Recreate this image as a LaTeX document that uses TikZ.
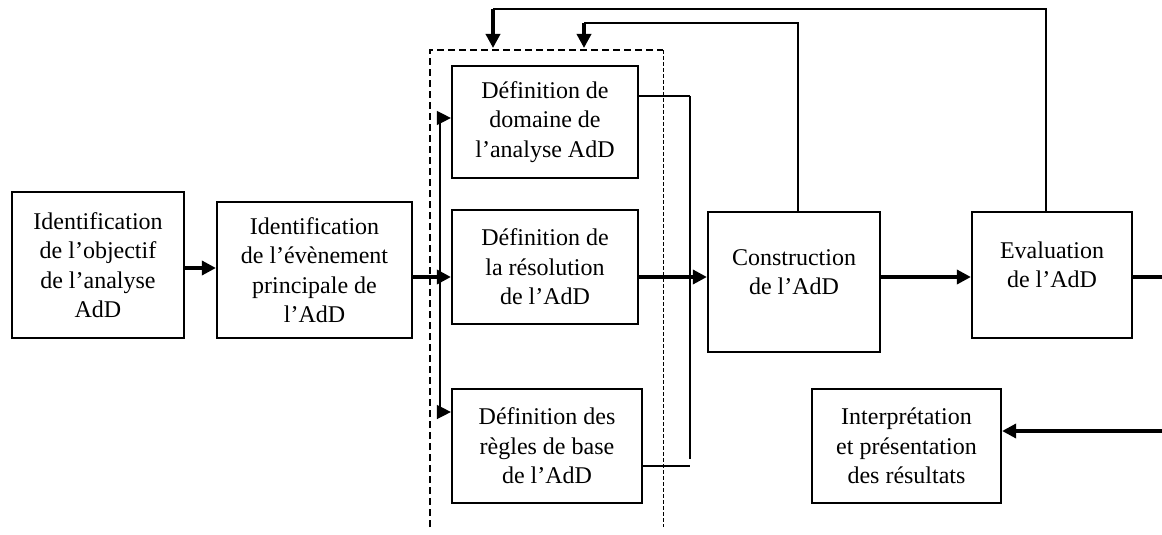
\documentclass[tikz,border=0pt]{standalone}
\usepackage{fontspec}
\setmainfont{Liberation Serif}
\usetikzlibrary{arrows.meta}
\begin{document}
\begin{tikzpicture}[x=0.5pt,y=-0.5pt,
  box/.style={draw, line width=1.1pt, align=center, inner sep=0pt,
    font=\fontsize{12}{14.75}\selectfont},
  boxtext/.style={align=center, inner sep=0pt, yshift=5pt,
    font=\fontsize{12}{14.75}\selectfont},
  tip/.style={-{Triangle[length=7pt,width=7pt]}},
  flow/.style={line width=1.7pt, tip},
  thinline/.style={line width=0.6pt},
  thinflow/.style={line width=0.7pt, tip},
  bus/.style={line width=1.1pt}]
\useasboundingbox (0,0) rectangle (1162,535);

% process boxes
\node[box, minimum width=86pt, minimum height=73pt] (B1) at (98,265)
  {Identification\\de l’objectif\\de l’analyse\\AdD};
\node[box, minimum width=97.5pt, minimum height=68pt] (B2) at (314.5,270)
  {Identification\\de l’évènement\\principale de\\l’AdD};
\node[box, minimum width=93pt, minimum height=56pt] (D1) at (545,122)
  {Définition de\\domaine de\\l’analyse AdD};
\node[box, minimum width=93pt, minimum height=57pt] (D2) at (545,267)
  {Définition de\\la résolution\\de l’AdD};
\node[box, minimum width=95pt, minimum height=57pt] (D3) at (547,446)
  {Définition des\\règles de base\\de l’AdD};
\node[box, minimum width=86pt, minimum height=70pt,
  label={[boxtext]center:Construction\\de l’AdD}] (C) at (794,282) {};
\node[box, minimum width=80pt, minimum height=63pt,
  label={[boxtext]center:Evaluation\\de l’AdD}] (E) at (1052,275) {};
\node[box, minimum width=94.5pt, minimum height=57pt] (I) at (906.5,446)
  {Interprétation\\et présentation\\des résultats};

% dashed frame around the definition steps
\draw[line width=1.2pt, dash pattern=on 3.5pt off 2pt]
  (430,527) -- (430,50) -- (663,50);
\draw[line width=0.5pt, dash pattern=on 2pt off 1pt] (663,50) -- (663,527);

% free ends at the right border
\coordinate (outR) at (1162,277);
\coordinate (inR) at (1162,431);

% main flow
\draw[flow] (B1.east |- 0,268) -- (B2.west |- 0,268);
\draw[flow] (B2.east |- 0,277) -- (D2.west |- 0,277);
\draw[flow] (D2.east |- 0,277) -- (C.west |- 0,277);
\draw[flow] (C.east |- 0,277) -- (E.west |- 0,277);
\draw[line width=1.7pt] (E.east |- outR) -- (outR);
\draw[flow] (inR) -- (I.east |- inR);

% branch into the definition steps
\draw[thinline] (440,118) -- (440,412);
\draw[thinflow] (440,118) -- (D1.west |- 0,118);
\draw[thinflow] (440,412) -- (D3.west |- 0,412);

% collector from the definition steps
\draw[thinline] (D1.east |- 0,96) -- (690,96);
\draw[bus] (690,96) -- (690,459);
\draw[thinline] (D3.east |- 0,466) -- (690,466);

% feedback loops
\draw[thinline] (E.north -| 1046,0) -- (1046,9) -- (493,9);
\draw[flow] (493,9) -- (493,48);
\draw[thinline] (C.north -| 798,0) -- (798,23) -- (584,23);
\draw[flow] (584,23) -- (584,48);
\end{tikzpicture}
\end{document}
